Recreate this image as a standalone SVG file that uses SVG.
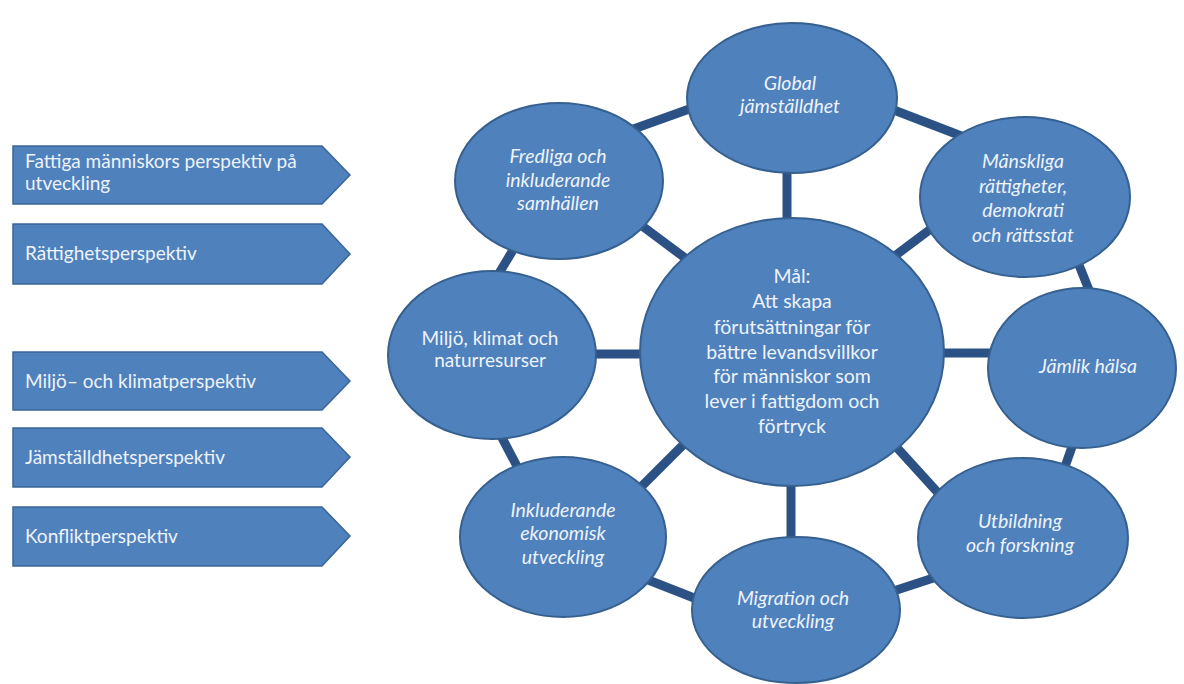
<svg xmlns="http://www.w3.org/2000/svg" width="1184" height="684" viewBox="0 0 1184 684">
<style>
.bg{fill:#ffffff}
.arrow{fill:#4f81bd;stroke:#3b6597;stroke-width:1.5}
.node{fill:#4f81bd;stroke:#36608f;stroke-width:2}
.conn{stroke:#2c5285;stroke-width:9;stroke-linecap:butt;fill:none}
.t{font-family:Lato,"Open Sans","Liberation Sans",sans-serif;fill:#eef3fa;font-size:19px}
.c{text-anchor:middle;font-size:19.5px}
.i{font-style:italic}
</style>
<rect class="bg" x="0" y="0" width="1184" height="684"/>
<g id="perspectives">
<g id="p1"><polygon class="arrow" points="13,146 322,146 350,175 322,204 13,204"/><text class="t" x="25" y="168">Fattiga människors perspektiv på</text><text class="t" x="25" y="190">utveckling</text></g>
<g id="p2"><polygon class="arrow" points="13,224 322,224 350,254 322,284 13,284"/><text class="t" x="25" y="260">Rättighetsperspektiv</text></g>
<g id="p3"><polygon class="arrow" points="13,352 322,352 350,381 322,410 13,410"/><text class="t" x="25" y="388">Miljö– och klimatperspektiv</text></g>
<g id="p4"><polygon class="arrow" points="13,428 322,428 350,457 322,487 13,487"/><text class="t" x="25" y="464">Jämställdhetsperspektiv</text></g>
<g id="p5"><polygon class="arrow" points="13,507 322,507 350,536 322,566 13,566"/><text class="t" x="25" y="543">Konfliktperspektiv</text></g>
</g>
<g id="connectors">
<line class="conn" x1="600" y1="141" x2="720" y2="98"/>
<line class="conn" x1="860" y1="97" x2="990" y2="147"/>
<line class="conn" x1="1065" y1="230" x2="1101" y2="320"/>
<line class="conn" x1="1085" y1="410" x2="1055" y2="495"/>
<line class="conn" x1="860" y1="602" x2="970" y2="566"/>
<line class="conn" x1="610" y1="565" x2="740" y2="616"/>
<line class="conn" x1="490" y1="415" x2="540" y2="510"/>
<line class="conn" x1="531" y1="220" x2="483" y2="300"/>
<line class="conn" x1="787" y1="150" x2="787" y2="250"/>
<line class="conn" x1="860" y1="282" x2="960" y2="207"/>
<line class="conn" x1="900" y1="353" x2="1030" y2="353"/>
<line class="conn" x1="870" y1="418" x2="960" y2="517"/>
<line class="conn" x1="791" y1="450" x2="791" y2="570"/>
<line class="conn" x1="620" y1="508" x2="710" y2="418"/>
<line class="conn" x1="560" y1="354" x2="700" y2="354"/>
<line class="conn" x1="610" y1="202" x2="720" y2="284"/>
</g>
<g id="center"><ellipse class="node" cx="792" cy="352" rx="152" ry="134"/>
<text class="t c"><tspan x="792" y="283">Mål:</tspan><tspan x="792" y="308">Att skapa</tspan><tspan x="792" y="334">förutsättningar för</tspan><tspan x="792" y="359">bättre levandsvillkor</tspan><tspan x="792" y="383">för människor  som</tspan><tspan x="792" y="408">lever i fattigdom och</tspan><tspan x="792" y="433">förtryck</tspan></text></g>
<g id="global"><ellipse class="node" cx="792" cy="98" rx="105" ry="75"/>
<text class="t c i"><tspan x="790" y="90">Global</tspan><tspan x="790" y="113">jämställdhet</tspan></text></g>
<g id="manskliga"><ellipse class="node" cx="1025" cy="197" rx="105" ry="80"/>
<text class="t c i"><tspan x="1023" y="168">Mänskliga</tspan><tspan x="1023" y="193">rättigheter,</tspan><tspan x="1023" y="217">demokrati</tspan><tspan x="1023" y="242">och rättsstat</tspan></text></g>
<g id="jamlik"><ellipse class="node" cx="1082" cy="368" rx="94" ry="80"/>
<text class="t c i"><tspan x="1088" y="373">Jämlik hälsa</tspan></text></g>
<g id="utbildning"><ellipse class="node" cx="1023" cy="538" rx="105" ry="80"/>
<text class="t c i"><tspan x="1020" y="528">Utbildning</tspan><tspan x="1020" y="552">och forskning</tspan></text></g>
<g id="migration"><ellipse class="node" cx="796" cy="610" rx="104" ry="73"/>
<text class="t c i"><tspan x="793" y="605">Migration och</tspan><tspan x="793" y="628">utveckling</tspan></text></g>
<g id="inkluderande"><ellipse class="node" cx="563" cy="537" rx="103" ry="80"/>
<text class="t c i"><tspan x="563" y="517">Inkluderande</tspan><tspan x="563" y="540">ekonomisk</tspan><tspan x="563" y="564">utveckling</tspan></text></g>
<g id="miljo"><ellipse class="node" cx="492" cy="355" rx="104" ry="84"/>
<text class="t c" style="font-size:19px"><tspan x="490" y="345">Miljö, klimat och</tspan><tspan x="490" y="367">naturresurser</tspan></text></g>
<g id="fredliga"><ellipse class="node" cx="559" cy="181" rx="104" ry="78"/>
<text class="t c i"><tspan x="558" y="163">Fredliga och</tspan><tspan x="558" y="187">inkluderande</tspan><tspan x="558" y="210">samhällen</tspan></text></g>
</svg>
